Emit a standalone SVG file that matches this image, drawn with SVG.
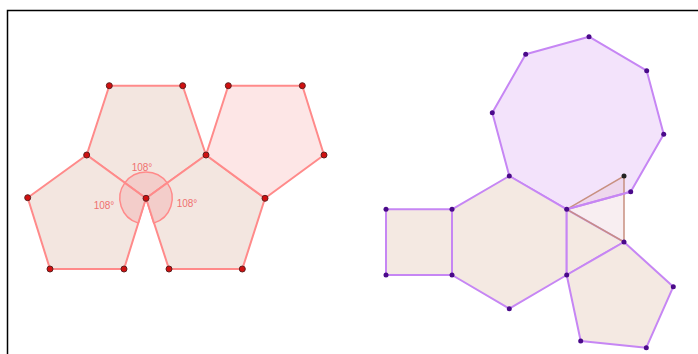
<svg xmlns="http://www.w3.org/2000/svg" width="698" height="354" viewBox="0 0 698 354">
<style>
.rp{fill:#f3e6e0;stroke:#ff8a8a;stroke-width:2;stroke-linejoin:round}
.rp2{fill:#fde6e6;stroke:#ff8a8a;stroke-width:2;stroke-linejoin:round}
.rd{fill:#d01010;stroke:#602020;stroke-width:1}
.pp{fill:#f4e9e2;stroke:#c686f4;stroke-width:2;stroke-linejoin:round}
.po{fill:#f3e3fb;stroke:#c686f4;stroke-width:2;stroke-linejoin:round}
.pd{fill:#4a0a8a}
.ang{fill:#f5b0b0;fill-opacity:0.45;stroke:#ff8a8a;stroke-width:1.5}
.lbl{font-family:"Liberation Sans",Arial,sans-serif;font-size:10px;fill:#f07070;text-anchor:middle}
.tri{fill:#d8a0b0;fill-opacity:0.18;stroke:#c89080;stroke-width:1.5}
</style>
<rect x="0" y="0" width="698" height="354" fill="#ffffff"/>
<path d="M7.5 354 V10.5 H698" fill="none" stroke="#000" stroke-width="1.5"/>

<g id="pent-top"><polygon class="rp" points="109.3,85.7 182.7,85.7 206,155 146,198.3 86.7,155"/></g>
<g id="pent-left"><polygon class="rp" points="86.7,155 146,198.3 124,269 50,269 27.7,197.7"/></g>
<g id="pent-bottom-right"><polygon class="rp" points="146,198.3 206,155 265,198.3 242.3,269 169,269"/></g>
<g id="pent-upper-right"><polygon class="rp2" points="206,155 228.3,85.7 302.3,85.7 324,155 265,198.3"/></g>

<g id="angles">
<path class="ang" d="M146,198.3 L124.8,182.9 A26,26 0 0 1 167.2,182.9 Z"/>
<path class="ang" d="M146,198.3 L124.8,182.9 A26,26 0 0 0 138.3,223.1 Z"/>
<path class="ang" d="M146,198.3 L167.2,182.9 A26,26 0 0 1 153.7,223.1 Z"/>
<text class="lbl" x="142" y="171">108°</text>
<text class="lbl" x="104" y="209">108°</text>
<text class="lbl" x="187" y="207">108°</text>
</g>

<g id="dots-left">
<circle class="rd" cx="109.3" cy="85.7" r="3"/>
<circle class="rd" cx="182.7" cy="85.7" r="3"/>
<circle class="rd" cx="206" cy="155" r="3"/>
<circle class="rd" cx="146" cy="198.3" r="3"/>
<circle class="rd" cx="86.7" cy="155" r="3"/>
<circle class="rd" cx="124" cy="269" r="3"/>
<circle class="rd" cx="50" cy="269" r="3"/>
<circle class="rd" cx="27.7" cy="197.7" r="3"/>
<circle class="rd" cx="265" cy="198.3" r="3"/>
<circle class="rd" cx="242.3" cy="269" r="3"/>
<circle class="rd" cx="169" cy="269" r="3"/>
<circle class="rd" cx="228.3" cy="85.7" r="3"/>
<circle class="rd" cx="302.3" cy="85.7" r="3"/>
<circle class="rd" cx="324" cy="155" r="3"/>
</g>

<g id="octagon"><polygon class="po" points="589,36.7 646.7,70.7 663.7,134.3 630.7,191.7 566.7,209.3 509.3,176 492.3,112.7 525.7,54.3"/></g>
<g id="square"><polygon class="pp" points="452,209.3 452,275 386,275 386,209.3"/></g>
<g id="hexagon"><polygon class="pp" points="509.3,176 566.7,209.3 566.7,275 509.3,308.7 452,275 452,209.3"/></g>
<g id="triangle"><polygon class="pp" points="566.7,209.3 624,242 566.7,275"/></g>
<g id="pentagon"><polygon class="pp" points="566.7,275 624,242 673.3,286.7 646.3,347.7 580.7,341"/></g>
<g id="flap"><polygon class="tri" points="566.7,209.3 624,176 624,242"/></g>
<g id="connectors">
<line x1="566.7" y1="209.3" x2="630.7" y2="191.7" stroke="#c686f4" stroke-width="2"/>
</g>

<g id="dots-right">
<circle class="pd" cx="589" cy="36.7" r="2.5"/>
<circle class="pd" cx="646.7" cy="70.7" r="2.5"/>
<circle class="pd" cx="663.7" cy="134.3" r="2.5"/>
<circle class="pd" cx="630.7" cy="191.7" r="2.5"/>
<circle class="pd" cx="566.7" cy="209.3" r="2.5"/>
<circle class="pd" cx="509.3" cy="176" r="2.5"/>
<circle class="pd" cx="492.3" cy="112.7" r="2.5"/>
<circle class="pd" cx="525.7" cy="54.3" r="2.5"/>
<circle class="pd" cx="566.7" cy="275" r="2.5"/>
<circle class="pd" cx="509.3" cy="308.7" r="2.5"/>
<circle class="pd" cx="452" cy="275" r="2.5"/>
<circle class="pd" cx="452" cy="209.3" r="2.5"/>
<circle class="pd" cx="386" cy="275" r="2.5"/>
<circle class="pd" cx="386" cy="209.3" r="2.5"/>
<circle class="pd" cx="624" cy="242" r="2.5"/>
<circle class="pd" cx="673.3" cy="286.7" r="2.5"/>
<circle class="pd" cx="646.3" cy="347.7" r="2.5"/>
<circle class="pd" cx="580.7" cy="341" r="2.5"/>
<circle cx="624" cy="176" r="2.5" fill="#222"/>
</g>
</svg>
